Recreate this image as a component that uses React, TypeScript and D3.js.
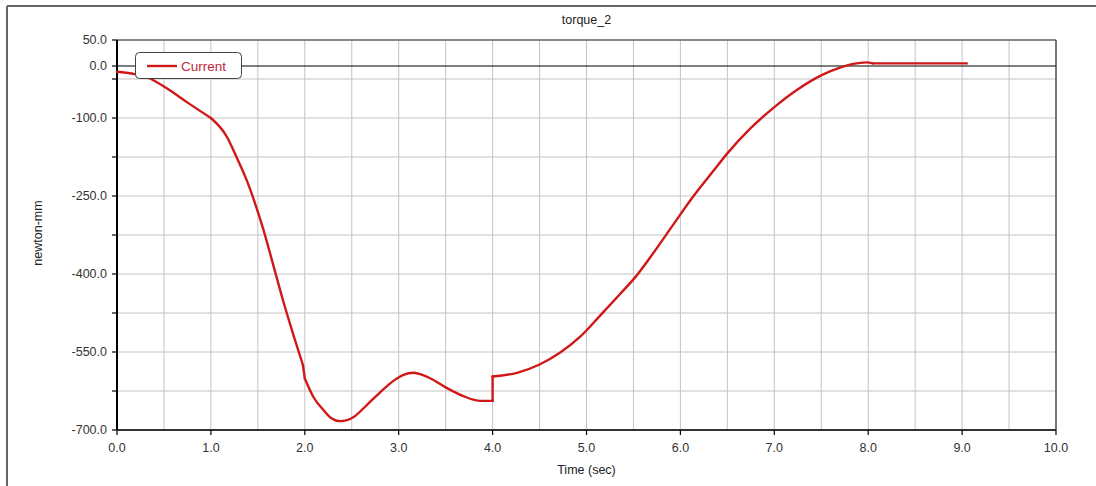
import React from "react";
import * as d3 from "d3";

const times = [0, 0.17, 0.35, 0.53, 0.74, 1.0, 1.17, 1.27, 1.38, 1.47, 1.56, 1.66, 1.77, 1.88, 1.98, 2.0, 2.09, 2.2, 2.28, 2.37, 2.45, 2.52, 2.66, 2.8, 2.94, 3.05, 3.16, 3.25, 3.33, 3.51, 3.69, 3.87, 4.0, 4.0, 4.26, 4.5, 4.72, 4.93, 5.14, 5.36, 5.52, 5.71, 5.92, 6.14, 6.35, 6.5, 6.74, 7.0, 7.24, 7.51, 7.7, 7.84, 7.98, 8.05, 9.05];
const torque = [-11, -15, -24, -43, -69, -100, -136, -174, -219, -264, -315, -380, -452, -518, -575, -601, -636, -662, -677, -683, -681, -675, -652, -628, -606, -594, -590, -594, -600, -619, -635, -644, -644, -597, -590, -574, -551, -521, -481, -438, -406, -360, -306, -250, -202, -168, -121, -79, -46, -17, -3, 4, 7, 5, 5];
// indices where the curve has a corner (segments are split there)
const cornerIndices = [5, 14, 15, 32, 33, 53];

const xTicks = [0, 1, 2, 3, 4, 5, 6, 7, 8, 9, 10];
const xGrid = d3.range(0, 10.01, 0.5);
const yGrid = [50, -25, -100, -175, -250, -325, -400, -475, -550, -625, -700];
const yLabels = [50, 0, -100, -250, -400, -550, -700];

const title = "torque_2";
const xLabel = "Time (sec)";
const yLabel = "newton-mm";
const seriesName = "Current";

export default function App() {
  const W = 1096, H = 486;
  const left = 117, right = 1056, top = 40, bottom = 430;
  const x = d3.scaleLinear().domain([0, 10]).range([left, right]);
  const y = d3.scaleLinear().domain([50, -700]).range([top, bottom]);
  const pts: [number, number][] = times.map((t, i) => [t, torque[i]]);
  const bounds = [0, ...cornerIndices, pts.length - 1];
  const segments: [number, number][][] = [];
  for (let i = 0; i < bounds.length - 1; i++) {
    if (bounds[i + 1] > bounds[i]) segments.push(pts.slice(bounds[i], bounds[i + 1] + 1));
  }
  const line = d3.line<[number, number]>().x(d => x(d[0])).y(d => y(d[1])).curve(d3.curveMonotoneX);
  const font = "'Liberation Sans', Arial, sans-serif";
  const red = "#d01818";

  return (
    <svg width={W} height={H} style={{ position: "absolute", left: 0, top: 0, background: "#fff" }} fontFamily={font}>
      <rect x={0} y={0} width={W} height={H} fill="#fff" />
      {/* outer frame */}
      <line x1={7} y1={6} x2={W} y2={6} stroke="#666" strokeWidth={2} />
      <line x1={7} y1={6} x2={7} y2={H} stroke="#666" strokeWidth={2} />

      {/* grid */}
      {xGrid.map((g, i) => (
        <line key={"xg" + i} x1={x(g)} x2={x(g)} y1={top} y2={bottom} stroke="#c4c4c4" strokeWidth={1} />
      ))}
      {yGrid.map((g, i) => (
        <line key={"yg" + i} x1={left} x2={right} y1={y(g)} y2={y(g)} stroke="#c4c4c4" strokeWidth={1} />
      ))}
      {/* zero line */}
      <line x1={left} x2={right} y1={y(0)} y2={y(0)} stroke="#000" strokeWidth={1.2} />

      {/* plot frame */}
      <line x1={left} x2={right} y1={top} y2={top} stroke="#333" strokeWidth={1.2} />
      <line x1={right} x2={right} y1={top} y2={bottom} stroke="#333" strokeWidth={1.2} />
      <line x1={left} x2={left} y1={top} y2={bottom} stroke="#000" strokeWidth={2} />
      <line x1={left} x2={right} y1={bottom} y2={bottom} stroke="#333" strokeWidth={2} />

      {/* y ticks */}
      {[...yGrid, 0].map((g, i) => (
        <line key={"yt" + i} x1={left - 5} x2={left} y1={y(g)} y2={y(g)} stroke="#000" strokeWidth={1.2} />
      ))}
      {yLabels.map((v, i) => (
        <text key={"yl" + i} x={107} y={y(v)} dy="0.35em" textAnchor="end" fontSize={12.5} fill="#333">
          {v.toFixed(1)}
        </text>
      ))}
      {/* x ticks */}
      {xTicks.map((t, i) => (
        <g key={"xt" + i}>
          <line x1={x(t)} x2={x(t)} y1={bottom} y2={bottom + 5} stroke="#000" strokeWidth={1.2} />
          <text x={x(t)} y={452} textAnchor="middle" fontSize={12.5} fill="#333">{t.toFixed(1)}</text>
        </g>
      ))}

      {/* series */}
      {segments.map((seg, i) => (
        <path key={"s" + i} d={line(seg) || ""} fill="none" stroke={red} strokeWidth={2.4} strokeLinejoin="round" strokeLinecap="round" />
      ))}

      {/* legend */}
      <rect x={135.5} y={52.5} width={106} height={26} rx={4} ry={4} fill="#fff" stroke="#444" strokeWidth={1} />
      <line x1={147} x2={177} y1={66} y2={66} stroke={red} strokeWidth={2.4} />
      <text x={181} y={70.5} fontSize={13.5} fill="#c02840">{seriesName}</text>

      {/* titles */}
      <text x={(left + right) / 2} y={24} textAnchor="middle" fontSize={12.5} fill="#222">{title}</text>
      <text x={(left + right) / 2} y={474} textAnchor="middle" fontSize={12.5} fill="#222">{xLabel}</text>
      <text transform={`translate(42,${233}) rotate(-90)`} textAnchor="middle" fontSize={12.5} fill="#222">{yLabel}</text>
    </svg>
  );
}
